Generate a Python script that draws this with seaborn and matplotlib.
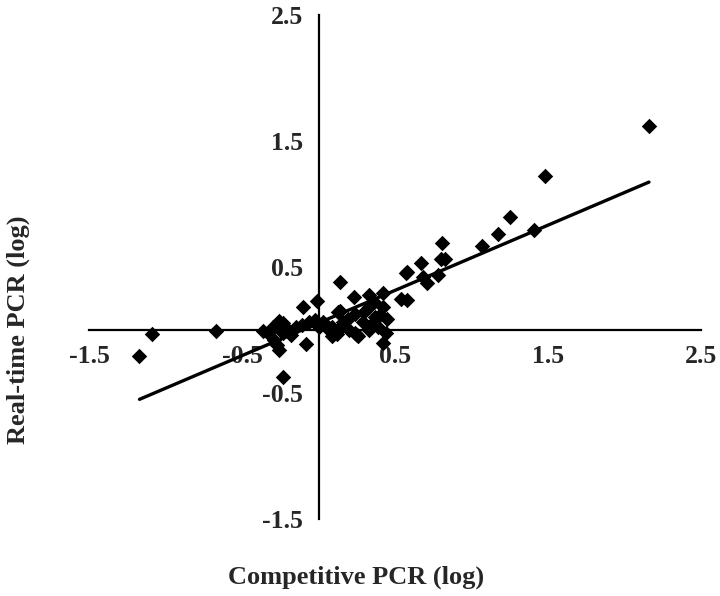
import matplotlib
matplotlib.use("Agg")
import matplotlib.pyplot as plt
import seaborn as sns
import numpy as np
import pandas as pd

competitive = [
    -1.17, -1.085, -0.67, -0.36, -0.23, -0.10, -0.01, 0.14, 0.23, -0.08, 0.14,
    -0.28, -0.235, -0.33, -0.29, -0.20, -0.15, -0.105, -0.065, -0.02, 0.03,
    0.09, 0.145, 0.09, -0.23, 0.00, -0.26, -0.27, -0.255,
    0.33, 0.42, 0.54, 0.58, 0.13, 0.33, 0.42, 0.24, 0.37, 0.45, 0.16, 0.29,
    0.39, 0.20, 0.33, 0.44, 0.13, 0.26, 0.42, 0.24, 0.25, 0.12, 0.07,
    0.58, 0.67, 0.68, 0.71, 0.78, 0.81, 0.80, 0.83, 0.57,
    1.07, 1.17, 1.25, 1.41, 1.48, 2.16,
    0.30, 0.36, 0.40, 0.35, -0.30, -0.18, 0.05, 0.19,
]
realtime = [
    -0.21, -0.03, -0.01, -0.01, -0.37, 0.18, 0.23, 0.38, 0.26, -0.11, 0.15,
    0.04, 0.055, -0.02, -0.08, 0.00, 0.02, 0.04, 0.06, 0.08, 0.06,
    0.02, 0.02, -0.05, -0.02, 0.02, -0.16, -0.12, 0.07,
    0.28, 0.29, 0.25, 0.24, 0.14, 0.18, 0.18, 0.13, 0.10, 0.09, 0.06, 0.06,
    0.02, 0.00, 0.00, -0.02, 0.00, -0.05, -0.10, -0.02, -0.04, -0.03, 0.0,
    0.46, 0.53, 0.42, 0.37, 0.44, 0.69, 0.56, 0.56, 0.45,
    0.67, 0.76, 0.90, 0.79, 1.22, 1.62,
    0.14, 0.22, 0.12, 0.05, 0.02, -0.04, 0.04, 0.09,
]
ticks = [-1.5, -0.5, 0.5, 1.5, 2.5]
tick_labels = ["-1.5", "-0.5", "0.5", "1.5", "2.5"]

df = pd.DataFrame({"Competitive PCR (log)": competitive,
                   "Real-time PCR (log)": realtime})

sns.set_style("white")
plt.rcParams['font.family'] = ['Liberation Serif', 'DejaVu Serif']

fig = plt.figure(figsize=(7.2, 5.96), dpi=100)
ax = fig.add_axes([89/720, 77/596, 612/720, 504/596])

sns.regplot(data=df, x="Competitive PCR (log)", y="Real-time PCR (log)", ax=ax,
            ci=None, truncate=True, marker="D", color="black",
            scatter_kws=dict(s=62, linewidths=0, alpha=1, zorder=3),
            line_kws=dict(linewidth=2.4, color="black", zorder=4))

ax.set_xlim(-1.5, 2.5)
ax.set_ylim(-1.5, 2.5)
ax.spines['left'].set_position(('data', 0))
ax.spines['bottom'].set_position(('data', 0))
ax.spines['top'].set_visible(False)
ax.spines['right'].set_visible(False)
for s in ('left', 'bottom'):
    ax.spines[s].set_linewidth(1.6)
    ax.spines[s].set_color('black')

ax.set_xticks(ticks)
ax.set_xticklabels(tick_labels)
ax.set_yticks(ticks)
ax.set_yticklabels(tick_labels)
ax.tick_params(axis='both', direction='out', length=6, width=1.6, color='black',
               labelsize=18.5, pad=5)
for lab in ax.get_xticklabels() + ax.get_yticklabels():
    lab.set_fontweight('bold')

ax.set_xlabel("Competitive PCR (log)", fontsize=19, fontweight='bold')
ax.set_ylabel("Real-time PCR (log)", fontsize=19, fontweight='bold')
ax.xaxis.label.set_va('center')
ax.yaxis.label.set_va('center')
ax.xaxis.set_label_coords((356-89)/612, (519-577)/504)
ax.yaxis.set_label_coords((18-89)/612, (519-330)/504)

fig.savefig("out.png", dpi=100, facecolor='white')
